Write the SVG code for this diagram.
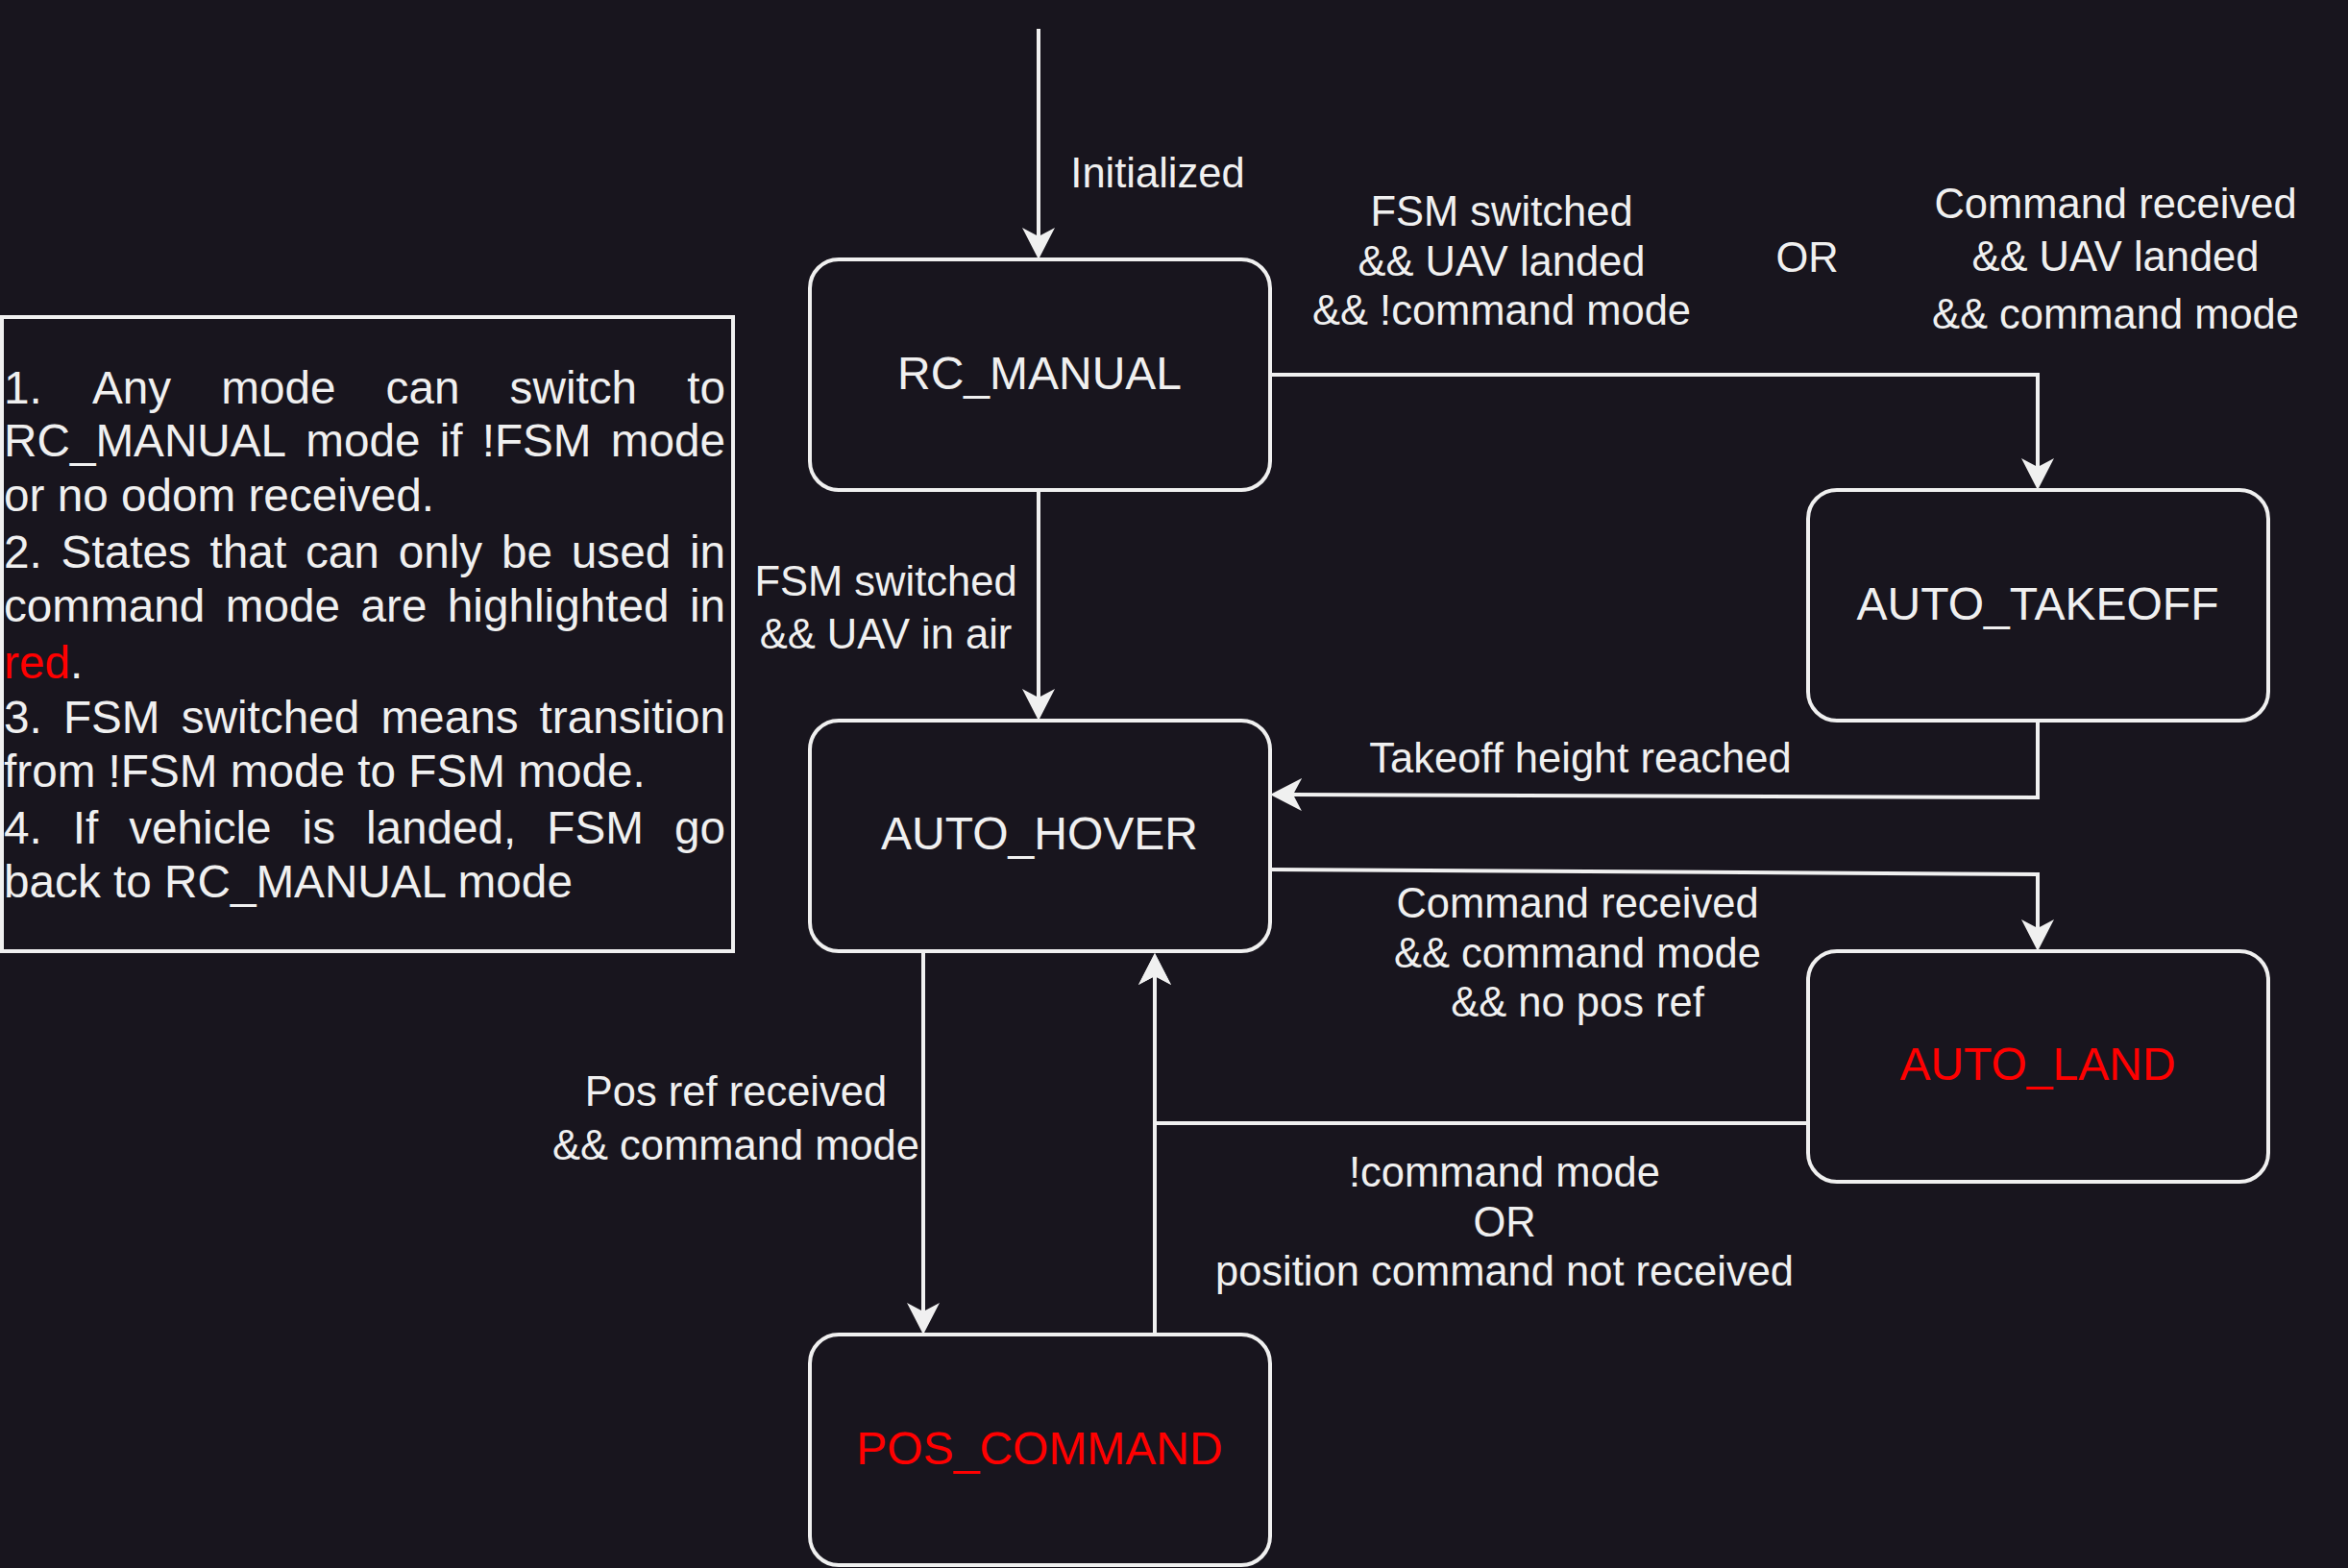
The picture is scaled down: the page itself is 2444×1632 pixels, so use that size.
<svg xmlns="http://www.w3.org/2000/svg" width="2444" height="1632" viewBox="0 0 2444 1632">
<style>
.bg{fill:#18151e}
.node{fill:#18151e;stroke:#f0f0f0;stroke-width:4}
.nl{font-family:"Liberation Sans",Arial,sans-serif;font-size:48px;fill:#f0f0f0;text-anchor:middle}
.red{fill:#ff0000}
.el{font-family:"Liberation Sans",Arial,sans-serif;font-size:43.5px;fill:#f0f0f0;text-anchor:middle}
.edge{fill:none;stroke:#f0f0f0;stroke-width:4}
.lg{font-family:"Liberation Sans",Arial,sans-serif;font-size:47.7px;fill:#f0f0f0}
</style>
<defs>
<marker id="arr" markerUnits="userSpaceOnUse" viewBox="0 0 34 34" markerWidth="34" markerHeight="34" refX="9" refY="17" orient="auto">
<path d="M0,0 L33,17 L0,34 L9,17 Z" fill="#f0f0f0"/>
</marker>
</defs>
<rect class="bg" x="0" y="0" width="2444" height="1632"/>

<g id="legend">
<rect x="2" y="330" width="761" height="660" fill="none" stroke="#f0f0f0" stroke-width="4"/>
<text class="lg" y="420"><tspan x="4">1.</tspan><tspan x="95.9">Any</tspan><tspan x="230.2">mode</tspan><tspan x="401.6">can</tspan><tspan x="530.6">switch</tspan><tspan x="715.2">to</tspan></text>
<text class="lg" y="475"><tspan x="4">RC_MANUAL</tspan><tspan x="318.3">mode</tspan><tspan x="457.7">if</tspan><tspan x="501.7">!FSM</tspan><tspan x="635.8">mode</tspan></text>
<text class="lg" x="4" y="532">or no odom received.</text>
<text class="lg" y="591"><tspan x="4">2.</tspan><tspan x="63.6">States</tspan><tspan x="218.6">that</tspan><tspan x="318">can</tspan><tspan x="414.7">only</tspan><tspan x="522">be</tspan><tspan x="594.8">used</tspan><tspan x="718">in</tspan></text>
<text class="lg" y="647"><tspan x="4">command</tspan><tspan x="234.8">mode</tspan><tspan x="375.5">are</tspan><tspan x="465.8">highlighted</tspan><tspan x="717.9">in</tspan></text>
<text class="lg" x="4" y="706"><tspan class="red">red</tspan>.</text>
<text class="lg" y="763"><tspan x="4">3.</tspan><tspan x="65.9">FSM</tspan><tspan x="188.7">switched</tspan><tspan x="396.4">means</tspan><tspan x="561.6">transition</tspan></text>
<text class="lg" x="4" y="819">from !FSM mode to FSM mode.</text>
<text class="lg" y="878"><tspan x="4">4.</tspan><tspan x="75.75">If</tspan><tspan x="134.2">vehicle</tspan><tspan x="314.55">is</tspan><tspan x="380.9">landed,</tspan><tspan x="569.35">FSM</tspan><tspan x="702">go</tspan></text>
<text class="lg" x="4" y="934">back to RC_MANUAL mode</text>
</g>

<g id="connectors">
<path class="edge" d="M1081,30 V246" marker-end="url(#arr)"/>
<path class="edge" d="M1081,510 V726" marker-end="url(#arr)"/>
<path class="edge" d="M1322,390 H2121 V486" marker-end="url(#arr)"/>
<path class="edge" d="M2121,750 V830 L1346,827" marker-end="url(#arr)"/>
<path class="edge" d="M1322,905 L2121,910 V966" marker-end="url(#arr)"/>
<path class="edge" d="M1882,1169 H1202 V1016" marker-end="url(#arr)"/>
<path class="edge" d="M1202,1389 V1016" marker-end="url(#arr)"/>
<path class="edge" d="M961,990 V1365" marker-end="url(#arr)"/>
<text class="el" x="1205" y="195">Initialized</text>
<text class="el" x="922" y="620">FSM switched</text>
<text class="el" x="922" y="675">&amp;&amp; UAV in air</text>
<text class="el" x="1563" y="235">FSM switched</text>
<text class="el" x="1563" y="287">&amp;&amp; UAV landed</text>
<text class="el" x="1563" y="338">&amp;&amp; !command mode</text>
<text class="el" x="1881" y="283">OR</text>
<text class="el" x="2202" y="227">Command received</text>
<text class="el" x="2202" y="282">&amp;&amp; UAV landed</text>
<text class="el" x="2202" y="342">&amp;&amp; command mode</text>
<text class="el" x="1645" y="804">Takeoff height reached</text>
<text class="el" x="1642" y="955">Command received</text>
<text class="el" x="1642" y="1007">&amp;&amp; command mode</text>
<text class="el" x="1642" y="1058">&amp;&amp; no pos ref</text>
<text class="el" x="1566" y="1235">!command mode</text>
<text class="el" x="1566" y="1287">OR</text>
<text class="el" x="1566" y="1338">position command not received</text>
<text class="el" x="766" y="1151">Pos ref received</text>
<text class="el" x="766" y="1207">&amp;&amp; command mode</text>
</g>

<g id="rc_manual">
<rect class="node" x="843" y="270" width="479" height="240" rx="30"/>
<text class="nl" x="1082" y="405">RC_MANUAL</text>
</g>
<g id="auto_takeoff">
<rect class="node" x="1882" y="510" width="479" height="240" rx="30"/>
<text class="nl" x="2121" y="645">AUTO_TAKEOFF</text>
</g>
<g id="auto_hover">
<rect class="node" x="843" y="750" width="479" height="240" rx="30"/>
<text class="nl" x="1082" y="884">AUTO_HOVER</text>
</g>
<g id="auto_land">
<rect class="node" x="1882" y="990" width="479" height="240" rx="30"/>
<text class="nl red" x="2121" y="1124">AUTO_LAND</text>
</g>
<g id="pos_command">
<rect class="node" x="843" y="1389" width="479" height="240" rx="30"/>
<text class="nl red" x="1082" y="1524">POS_COMMAND</text>
</g>
</svg>
